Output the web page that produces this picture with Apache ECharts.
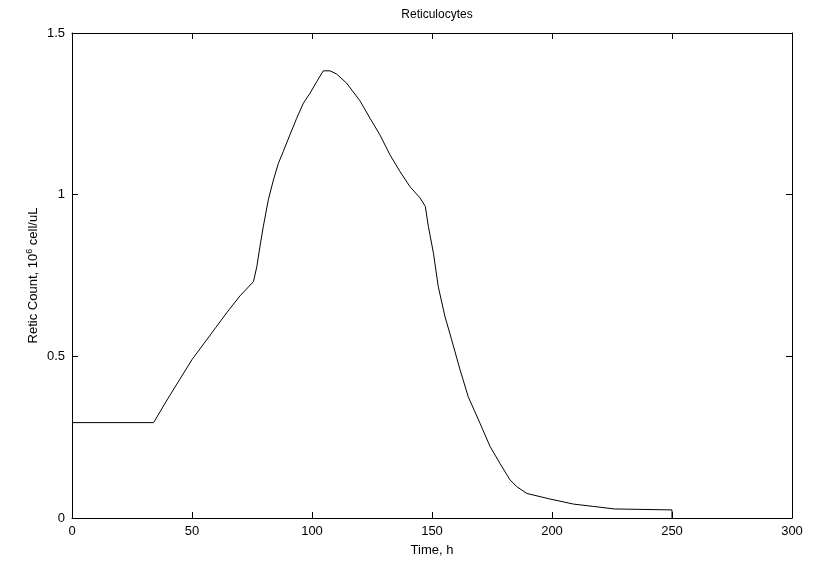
<!DOCTYPE html>
<html>
<head>
<meta charset="utf-8">
<title>Reticulocytes</title>
<script src="https://cdn.jsdelivr.net/npm/echarts@6/dist/echarts.min.js"></script>
<style>
  html, body { margin: 0; padding: 0; background: #fff; }
  #chart { width: 813px; height: 568px; }
</style>
</head>
<body>
<div id="chart"></div>
<script>
// 数据：时间（h）与网织红细胞计数（10^6 cell/uL）
var timeH = [0, 34, 40, 50, 60, 65, 70, 75.6, 77, 78.3, 79.7, 81.8, 83.9, 86, 88, 90.8, 93.6, 96.4, 99.2, 102,
    104.7, 107.5, 110.3, 114.4, 120, 124.2, 128.3, 132.5, 136.7, 140.8, 145, 147.2, 148.5, 150.6, 152.6,
    155.4, 158.2, 161.7, 165.1, 170, 174.2, 178.3, 182.5, 185.3, 189.5, 199, 209, 217, 226, 250, 250];
var reticCount = [0.295, 0.295, 0.37, 0.49, 0.59, 0.64, 0.687, 0.731, 0.777, 0.839, 0.901, 0.984, 1.045, 1.097, 1.133, 1.185, 1.236, 1.283, 1.314, 1.35,
    1.383, 1.383, 1.373, 1.345, 1.29, 1.236, 1.185, 1.123, 1.071, 1.025, 0.99, 0.964, 0.901, 0.819, 0.716,
    0.623, 0.551, 0.458, 0.375, 0.293, 0.221, 0.169, 0.118, 0.097, 0.076, 0.059, 0.043, 0.036, 0.028, 0.025, 0];

var xTicks = [0, 50, 100, 150, 200, 250, 300];
var yTicks = [0, 0.5, 1, 1.5];

var font = "Liberation Sans";

// 拼成 [x, y] 点对
var points = [];
for (var i = 0; i < timeH.length; i++) {
    points.push([timeH[i], reticCount[i]]);
}

// MATLAB 风格的坐标框：刻度朝内，上/右侧也画刻度
function boxAxis(pos, showLabel, ticks, extra) {
    var ax = {
        type: "value",
        position: pos,
        min: ticks[0],
        max: ticks[ticks.length - 1],
        interval: ticks[1] - ticks[0],
        axisLine: { show: true, onZero: false, lineStyle: { color: "#000", width: 1 } },
        axisTick: { show: true, inside: true, length: 6, lineStyle: { color: "#000", width: 1 } },
        axisLabel: { show: showLabel, color: "#000", fontFamily: font, fontSize: 13, margin: 7 },
        splitLine: { show: false }
    };
    for (var k in extra) ax[k] = extra[k];
    return ax;
}

var chart = echarts.init(document.getElementById("chart"));
chart.setOption({
    animation: false,
    backgroundColor: "#fff",
    title: {
        text: "Reticulocytes",
        left: 432,
        top: 4,
        textAlign: "center",
        textStyle: { color: "#000", fontFamily: font, fontSize: 12, fontWeight: "normal" }
    },
    grid: { left: 72, right: 21, top: 33, bottom: 50 },
    xAxis: [
        boxAxis("bottom", true, xTicks, {
            name: "Time, h", nameLocation: "middle", nameGap: 26,
            nameTextStyle: { color: "#000", fontFamily: font, fontSize: 13 }
        }),
        boxAxis("top", false, xTicks, {})
    ],
    yAxis: [
        boxAxis("left", true, yTicks, {
            name: "Retic Count, 10{sup|6} cell/uL", nameLocation: "middle", nameGap: 30,
            nameMoveOverlap: false,
            nameTextStyle: {
                color: "#000", fontFamily: font, fontSize: 13,
                rich: { sup: { fontSize: 9, verticalAlign: "top", padding: [0, 0, 8, 0], fontFamily: font, color: "#000" } }
            }
        }),
        boxAxis("right", false, yTicks, {})
    ],
    series: [{
        type: "line",
        data: points,
        showSymbol: false,
        symbol: "none",
        lineStyle: { color: "#000", width: 1 },
        silent: true
    }]
});
</script>
</body>
</html>
